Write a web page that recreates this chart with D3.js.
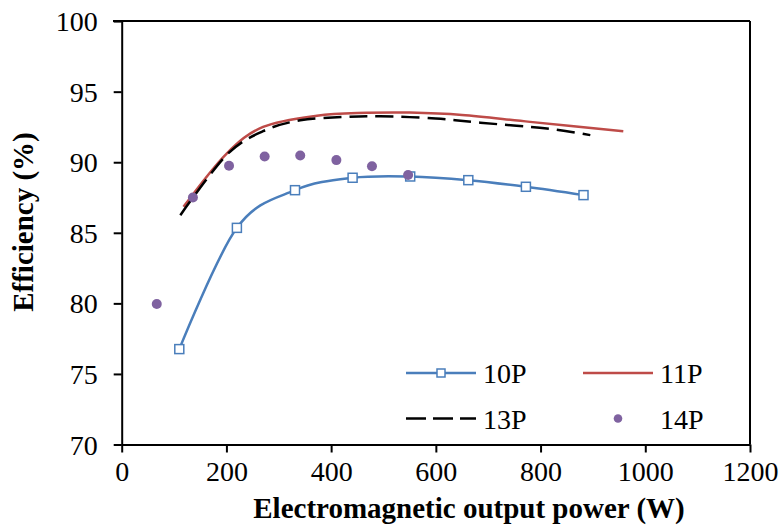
<!DOCTYPE html>
<html><head><meta charset="utf-8">
<script src="https://cdn.jsdelivr.net/npm/d3@7/dist/d3.min.js"></script>
</head>
<body style="margin:0;background:#fff">
<svg id="chart" width="781" height="529" style="display:block"></svg>
<script>
// ---- data ----
const xTicks = [0, 200, 400, 600, 800, 1000, 1200];
const yTicks = [70, 75, 80, 85, 90, 95, 100];

const p10x = [110, 220, 331, 441, 551, 662, 772, 882];
const p10y = [76.76, 85.35, 88.02, 88.9, 88.99, 88.73, 88.26, 87.67];

const p11x = [118, 200, 270, 373, 468, 550, 650, 780, 958];
const p11y = [86.84, 90.6, 92.5, 93.3, 93.5, 93.52, 93.35, 92.86, 92.2];

const p13x = [112, 200, 270, 341, 420, 493, 600, 685, 812, 895];
const p13y = [86.25, 90.5, 92.2, 92.97, 93.2, 93.26, 93.1, 92.8, 92.39, 91.92];

const p14x = [67, 136, 205, 273, 341, 410, 478, 547];
const p14y = [79.95, 87.5, 89.75, 90.41, 90.48, 90.15, 89.72, 89.09];

const seriesNames = ["10P", "11P", "13P", "14P"];
const colors = {"10P": "#4a7ebb", "11P": "#be4b48", "13P": "#000000", "14P": "#7f62a0"};

// ---- chart ----
const FONT = '"Liberation Serif"';
const svg = d3.select("#chart");
const x = d3.scaleLinear().domain([0, 1200]).range([121.7, 750]);
const y = d3.scaleLinear().domain([70, 100]).range([444.5, 21.1]);

const zip = (xs, ys) => xs.map((v, i) => [v, ys[i]]);
const line = d3.line().x(d => x(d[0])).y(d => y(d[1])).curve(d3.curveCardinal.tension(0));

// frame (top & right)
svg.append("line").attr("x1", 113).attr("x2", 750).attr("y1", y(100)).attr("y2", y(100))
  .attr("stroke", "#000").attr("stroke-width", 2);
svg.append("line").attr("x1", 750).attr("x2", 750).attr("y1", y(100)).attr("y2", y(70))
  .attr("stroke", "#000").attr("stroke-width", 2);

// axes
const xAxis = svg.append("g").attr("transform", `translate(0,${y(70)})`)
  .call(d3.axisBottom(x).tickValues(xTicks).tickFormat(d3.format("d")).tickSize(8).tickPadding(16).tickSizeOuter(0));
const yAxis = svg.append("g").attr("transform", `translate(${x(0)},0)`)
  .call(d3.axisLeft(y).tickValues(yTicks).tickFormat(d3.format("d")).tickSize(8).tickPadding(16).tickSizeOuter(0));
[xAxis, yAxis].forEach(g => {
  g.attr("font-family", null).attr("font-size", null);
  g.select(".domain").attr("stroke", "#000").attr("stroke-width", 2);
  g.selectAll(".tick line").attr("stroke", "#000").attr("stroke-width", 2);
  g.selectAll(".tick text").attr("fill", "#000").style("font-size", "28px").style("font-family", FONT);
});
xAxis.selectAll(".tick text").attr("dy", "0.71em").attr("y", 17);
yAxis.selectAll(".tick text").attr("x", -24).attr("dy", "0.34em");

// series lines
svg.append("path").datum(zip(p10x, p10y)).attr("d", line)
  .attr("fill", "none").attr("stroke", colors["10P"]).attr("stroke-width", 2.5);
svg.append("path").datum(zip(p11x, p11y)).attr("d", line)
  .attr("fill", "none").attr("stroke", colors["11P"]).attr("stroke-width", 2.5);
svg.append("path").datum(zip(p13x, p13y)).attr("d", line)
  .attr("fill", "none").attr("stroke", colors["13P"]).attr("stroke-width", 2.5)
  .attr("stroke-dasharray", "18,8");

// markers
svg.append("g").selectAll("rect").data(zip(p10x, p10y)).join("rect")
  .attr("x", d => x(d[0]) - 4.5).attr("y", d => y(d[1]) - 4.5)
  .attr("width", 9).attr("height", 9)
  .attr("fill", "#fff").attr("stroke", colors["10P"]).attr("stroke-width", 1.5);
svg.append("g").selectAll("circle").data(zip(p14x, p14y)).join("circle")
  .attr("cx", d => x(d[0])).attr("cy", d => y(d[1])).attr("r", 5)
  .attr("fill", colors["14P"]);

// legend
const leg = svg.append("g");
const legPos = [
  {name: "10P", lx: 406, ly: 373},
  {name: "11P", lx: 583, ly: 373},
  {name: "13P", lx: 406, ly: 418.5},
  {name: "14P", lx: 583, ly: 418.5}
];
legPos.forEach(p => {
  const n = p.name;
  if (n !== "14P") {
    leg.append("line").attr("x1", p.lx).attr("x2", p.lx + 70).attr("y1", p.ly).attr("y2", p.ly)
      .attr("stroke", colors[n]).attr("stroke-width", 2.5)
      .attr("stroke-dasharray", n === "13P" ? "20,7" : null);
  }
  if (n === "10P") {
    leg.append("rect").attr("x", p.lx + 35 - 4).attr("y", p.ly - 4).attr("width", 8).attr("height", 8)
      .attr("fill", "#fff").attr("stroke", colors[n]).attr("stroke-width", 1.5);
  }
  if (n === "14P") {
    leg.append("circle").attr("cx", p.lx + 35).attr("cy", p.ly).attr("r", 4.3).attr("fill", colors[n]);
  }
  leg.append("text").attr("x", p.lx + 77).attr("y", p.ly + 10)
    .style("font-size", "28px").style("font-family", FONT).text(n);
});

// axis titles
svg.append("text").attr("x", 469).attr("y", 518).attr("text-anchor", "middle")
  .style("font-size", "29px").style("font-weight", "bold").style("font-family", FONT)
  .text("Electromagnetic output power (W)");
svg.append("text").attr("transform", "translate(33,222) rotate(-90)").attr("text-anchor", "middle")
  .style("font-size", "29px").style("font-weight", "bold").style("font-family", FONT)
  .text("Efficiency (%)");
</script>
</body></html>
